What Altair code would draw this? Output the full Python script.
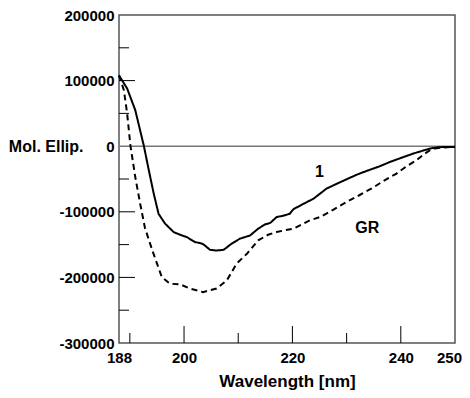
import altair as alt
import pandas as pd

# Curve "1" (solid)
wl_1 = [188.0, 189.5, 191.0, 192.6, 193.5, 194.4, 195.3, 196.5, 198.1, 199.6, 200.5, 202.0, 203.3, 203.8,
        204.8, 206.0, 207.3, 208.8, 210.3, 212.2, 213.7, 215.0, 215.9, 217.1, 218.3, 219.5,
        220.2, 222.0, 223.9, 226.3, 228.0, 230.0, 232.0, 233.7, 236.0, 238.0, 240.0, 242.3, 244.0,
        245.4, 247.0, 248.5, 250.0]
ce_1 = [108000, 88000, 55000, 0, -36600, -72000, -103000, -118000, -131000, -136000, -138500, -146000, -148500, -151000,
        -158000, -159000, -158000, -148500, -141000, -136000, -125600, -119000, -117000, -108000, -106000, -103000,
        -96000, -88000, -80000, -64600, -58000, -50400, -43000, -37700, -31000, -24000, -18000, -11200, -7000,
        -3500, -1500, -1200, -1000]

# Curve "GR" (dashed)
wl_gr = [188.0, 188.9, 189.5, 190.1, 191.0, 191.9, 192.8, 194.2, 195.9, 197.4, 199.3, 201.1, 203.5,
         206.0, 207.9, 209.7, 211.6, 213.7, 215.5, 217.1, 218.7, 220.2, 221.4, 223.2, 225.1, 227.5, 230.0,
         232.5, 234.9, 237.0, 239.2, 241.0, 242.9, 244.3, 245.4, 246.3, 247.2, 248.6, 250.0]
ce_gr = [108000, 85500, 50000, 1500, -47000, -87500, -125000, -160000, -199500, -209600, -210700, -217000, -222400,
         -217000, -204600, -179000, -164000, -143500, -135000, -130800, -128000, -125600, -120600, -113000, -108000, -97000, -85000,
         -74000, -63000, -52000, -41700, -31000, -21400, -12000, -6000, -3500, -2500, -1500, -1000]

# Axis ticks
x_labels = [188, 200, 220, 240, 250]
x_major = [200, 220, 240]
x_minor = [190, 210, 230]
y_labels = [200000, 100000, 0, -100000, -200000, -300000]
y_major = [100000, -100000, -200000]
y_minor = [150000, 50000, -50000, -150000, -250000]

# Annotations
ann_text = ["1", "GR"]
ann_x = [225.0, 233.8]
ann_y = [-40000, -124000]

FONT = "Liberation Sans"

df = pd.concat([
    pd.DataFrame({"wl": wl_1, "ce": ce_1, "series": "1"}),
    pd.DataFrame({"wl": wl_gr, "ce": ce_gr, "series": "GR"}),
])

xs = alt.Scale(domain=[188, 250], nice=False, zero=False)
ys = alt.Scale(domain=[-300000, 200000], nice=False, zero=False)

base_x = alt.X("wl:Q", scale=xs, axis=alt.Axis(
    values=x_labels, labelExpr="datum.value + ''", ticks=False, grid=False, domain=False,
    labelFlush=False, labelOverlap=False, labelFont=FONT, labelFontSize=15, labelFontWeight="bold",
    labelColor="black", labelPadding=7,
    labelOffset={"condition": {"test": "datum.value == 250", "value": -6}, "value": 0},
    title="Wavelength [nm]", titleFont=FONT,
    titleFontSize=17, titleFontWeight="bold", titleColor="black", titlePadding=8))
base_y = alt.Y("ce:Q", scale=ys, axis=alt.Axis(
    values=y_labels, labelExpr="datum.value + ''", ticks=False, grid=False, domain=False,
    labelFlush=False, labelOverlap=False, labelFont=FONT, labelFontSize=15, labelFontWeight="bold",
    labelColor="black", labelPadding=5, title="Mol. Ellip.", titleAngle=0,
    titleAlign="right", titleBaseline="middle", titleX=-36, titleY=131,
    titleFont=FONT, titleFontSize=16, titleFontWeight="bold", titleColor="black"))

lines = alt.Chart(df).mark_line(color="black", strokeWidth=2).encode(
    x=base_x, y=base_y,
    strokeDash=alt.StrokeDash("series:N", scale=alt.Scale(domain=["1", "GR"], range=[[1, 0], [6, 4]]), legend=None),
    detail="series:N",
)

zero = alt.Chart(pd.DataFrame({"ce": [0]})).mark_rule(color="#777777", strokeWidth=1.5).encode(
    y=alt.Y("ce:Q", scale=ys))

yt_major = alt.Chart(pd.DataFrame({"ce": y_major})).mark_rule(color="black", strokeWidth=1).encode(
    y=alt.Y("ce:Q", scale=ys), x=alt.value(0), x2=alt.value(16))
yt_minor = alt.Chart(pd.DataFrame({"ce": y_minor})).mark_rule(color="black", strokeWidth=1).encode(
    y=alt.Y("ce:Q", scale=ys), x=alt.value(0), x2=alt.value(10))
xt_major = alt.Chart(pd.DataFrame({"wl": x_major})).mark_rule(color="black", strokeWidth=1).encode(
    x=alt.X("wl:Q", scale=xs), y=alt.value(328), y2=alt.value(311))
xt_minor = alt.Chart(pd.DataFrame({"wl": x_minor})).mark_rule(color="black", strokeWidth=1).encode(
    x=alt.X("wl:Q", scale=xs), y=alt.value(328), y2=alt.value(318))

ann = alt.Chart(pd.DataFrame({"wl": ann_x, "ce": ann_y, "t": ann_text})).mark_text(
    font=FONT, fontSize=16, fontWeight="bold", color="black").encode(
    x=alt.X("wl:Q", scale=xs), y=alt.Y("ce:Q", scale=ys), text="t:N")

chart = alt.layer(zero, yt_major, yt_minor, xt_major, xt_minor, lines, ann).properties(
    width=336, height=328,
    autosize=alt.AutoSizeParams(type="none"),
    padding={"left": 111, "top": 7, "right": 7, "bottom": 47},
).configure_view(stroke="#555555", strokeWidth=1.5)

chart.save("out.html", embed_options={"renderer": "svg", "actions": False})
